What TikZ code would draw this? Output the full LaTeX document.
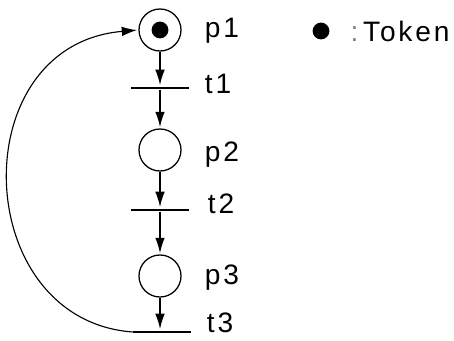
\documentclass[tikz,border=0pt]{standalone}
\usepackage{fontspec}
\setmainfont{Liberation Sans}[LetterSpace=10]
\usetikzlibrary{arrows.meta, positioning}

\begin{document}
\begin{tikzpicture}[
  x=0.025cm, y=-0.025cm,
  place/.style={circle, draw, line width=0.9pt, minimum size=10.5mm, inner sep=0pt},
  trans/.style={rectangle, fill, minimum width=14.5mm, minimum height=0.7mm, inner sep=0pt},
  token/.style={circle, fill, minimum size=4.2mm, inner sep=0pt},
  lab/.style={anchor=west, font=\fontsize{20}{23}\selectfont},
  edge/.style={-{Latex[length=3.8mm, width=2.4mm]}, line width=0.8pt, shorten >=1pt}
]
\useasboundingbox (0,0) rectangle (454,341);

% places and transitions
\node[place] (p1) at (160,30) {};
\node[token] (tok) at (p1) {};
\node[trans] (t1) at (160,88) {};
\node[place] (p2) at (160,150) {};
\node[trans] (t2) at (160,210) {};
\node[place] (p3) at (160,276) {};
\node[trans] (t3) at (162,332) {};

% names
\node[lab] (p1lab) at (200,31) {p1};
\node[lab] (t1lab) at (200,84) {t1};
\node[lab] (p2lab) at (200,155) {p2};
\node[lab] (t2lab) at (203,204) {t2};
\node[lab] (p3lab) at (200,278) {p3};
\node[lab] (t3lab) at (202,323) {t3};

% legend
\node[token] (legdot) at (321,31) {};
\node[lab, right=4mm of legdot] (legtext) {{\color{gray}:}\,Token};

\draw[edge] (p1) -- (t1);
\draw[edge] (t1) -- (p2);
\draw[edge] (p2) -- (t2);
\draw[edge] (t2) -- (p3);
\draw[edge] (p3) -- (t3.north -| p3);
\draw[edge] (t3.west) .. controls (-30,320) and (-38,45) .. (p1.west);
\end{tikzpicture}
\end{document}
